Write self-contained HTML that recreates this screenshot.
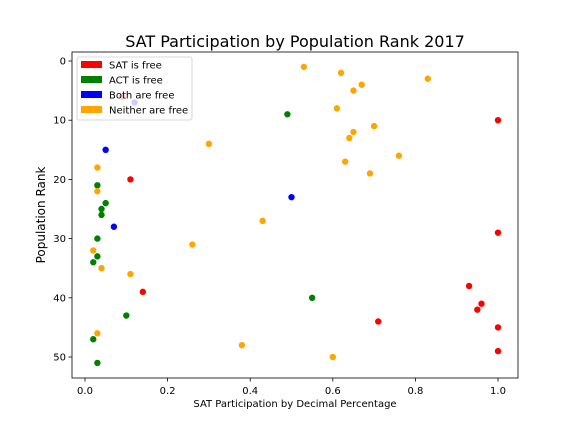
<!DOCTYPE html>
<html><head><meta charset="utf-8"><style>
body{margin:0;background:#fff;font-family:"DejaVu Sans","Liberation Sans",sans-serif}
svg{display:block;font-family:"DejaVu Sans","Liberation Sans",sans-serif}
</style></head><body>
<svg id="c" width="576" height="432" xmlns="http://www.w3.org/2000/svg"></svg>
<script>
const redX=[0.09,0.11,0.14,1.0,1.0,0.93,0.96,0.95,0.71,1.0,1.0];
const redY=[6,20,39,10,29,38,41,42,44,45,49];
const greenX=[0.49,0.03,0.05,0.04,0.04,0.03,0.03,0.02,0.55,0.10,0.02,0.03];
const greenY=[9,21,24,25,26,30,33,34,40,43,47,51];
const blueX=[0.12,0.05,0.50,0.07];
const blueY=[7,15,23,28];
const orangeX=[0.53,0.62,0.83,0.67,0.65,0.61,0.70,0.65,0.64,0.30,0.76,0.63,0.03,0.69,0.03,0.43,0.26,0.02,0.04,0.11,0.03,0.38,0.60];
const orangeY=[1,2,3,4,5,8,11,12,13,14,16,17,18,19,22,27,31,32,35,36,46,48,50];
const xTicks=[0,0.2,0.4,0.6,0.8,1.0];
const xTickLabels=["0.0","0.2","0.4","0.6","0.8","1.0"];
const yTicks=[0,10,20,30,40,50];
const legendLabels=["SAT is free","ACT is free","Both are free","Neither are free"];
const legendColors=["red","green","blue","orange"];

const L=72,R=518,T=52,B=378;
const sx=v=>85+(v-0)*413;
const sy=v=>61+v*5.92;
const svg=document.getElementById('c');
const NS='http://www.w3.org/2000/svg';
function mk(tag,attrs,parent){const e=document.createElementNS(NS,tag);for(const k in attrs)e.setAttribute(k,attrs[k]);(parent||svg).appendChild(e);return e;}

const title=mk('text',{x:295,y:47,'text-anchor':'middle','font-size':16});
title.textContent='SAT Participation by Population Rank 2017';



const series=[[redX,redY,'red'],[greenX,greenY,'green'],[blueX,blueY,'blue'],[orangeX,orangeY,'orange']];
series.forEach(([xs,ys,col])=>{
  xs.forEach((x,i)=>{
    const p=mk('circle',{cx:sx(x),cy:sy(ys[i]),r:3.2,fill:col});
    
    
  });
});

const frame=mk('rect',{x:L,y:T,width:R-L,height:B-T,fill:'none',stroke:'#000','stroke-width':0.8});



xTicks.forEach((t,i)=>{
  mk('line',{x1:sx(t),x2:sx(t),y1:B,y2:B+3.5,stroke:'#000','stroke-width':0.8});
  const lb=mk('text',{x:sx(t),y:B+16,'text-anchor':'middle','font-size':10});
  lb.textContent=xTickLabels[i];
  
  
});
yTicks.forEach(t=>{
  mk('line',{x1:L-3.5,x2:L,y1:sy(t),y2:sy(t),stroke:'#000','stroke-width':0.8});
  const lb=mk('text',{x:L-6,y:sy(t)+3.5,'text-anchor':'end','font-size':10});
  lb.textContent=t;
  
  
});
const xt=mk('text',{x:295,y:407,'text-anchor':'middle','font-size':10});
xt.textContent='SAT Participation by Decimal Percentage';


const yt=mk('text',{x:0,y:0,'text-anchor':'middle','font-size':12,transform:'translate(45,215) rotate(-90)'});
yt.textContent='Population Rank';



const lg=mk('g',{});


mk('rect',{x:77,y:57,width:115,height:63,rx:2,fill:'#fff','fill-opacity':0.8,stroke:'#ccc','stroke-width':0.8},lg);
legendLabels.forEach((s,i)=>{
  const y=61+i*15;
  const sw=mk('rect',{x:81,y:y,width:21,height:7,fill:legendColors[i]},lg);
  
  
  const tx=mk('text',{x:109,y:y+7.5,'font-size':10},lg);
  tx.textContent=s;
  
  
});
</script>
</body></html>
